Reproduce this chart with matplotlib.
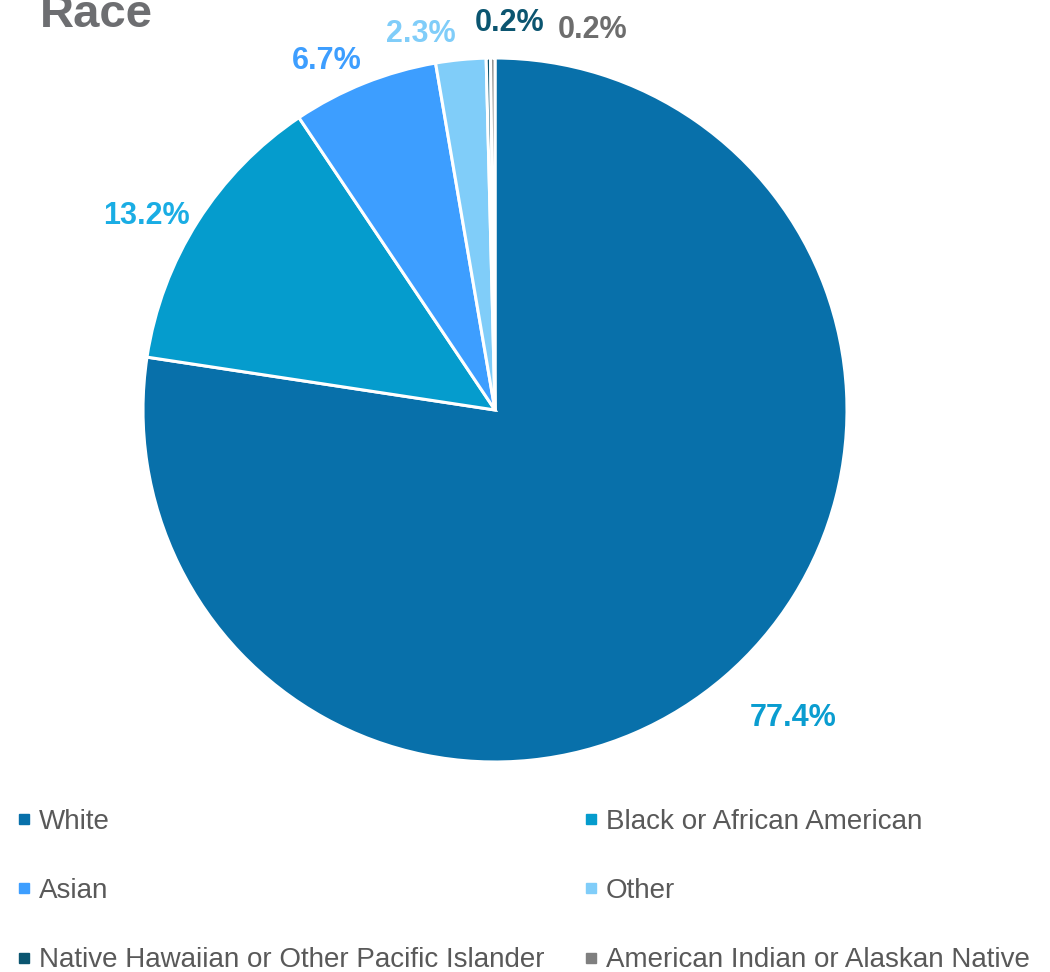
import matplotlib.pyplot as plt
from matplotlib.lines import Line2D

plt.rcParams['font.family'] = ['Liberation Sans', 'DejaVu Sans']

races = ["White", "Black or African American", "Asian", "Other",
         "Native Hawaiian or Other Pacific Islander", "American Indian or Alaskan Native"]
shares = [77.4, 13.2, 6.7, 2.3, 0.2, 0.2]
pct_labels = ["77.4%", "13.2%", "6.7%", "2.3%", "0.2%", "0.2%"]

slice_colors = ["#0870AA", "#059CCD", "#3D9EFF", "#80CDF9", "#0B5570", "#7F7F7F"]
label_colors = ["#0A9DD0", "#1AADE4", "#3D9EFF", "#80CDF9", "#0B5570", "#6D6D6D"]
# where Excel put each data label, in units of the pie radius
label_pos = [(0.847, -0.875), (-0.989, 0.551), (-0.477, 0.991),
             (-0.210, 1.068), (0.040, 1.099), (0.278, 1.079)]

fig = plt.figure(figsize=(10.5, 9.72), dpi=100)
ax = fig.add_axes([143 / 1050, 210 / 972, 704 / 1050, 704 / 972])

wedges, _ = ax.pie(shares, colors=slice_colors, startangle=90, counterclock=False,
                   radius=1, wedgeprops=dict(edgecolor="white", linewidth=2.2))
ax.set_xlim(-1, 1)
ax.set_ylim(-1, 1)
ax.set_aspect("equal")
ax.axis("off")

for (x, y), txt, c in zip(label_pos, pct_labels, label_colors):
    ax.text(x, y, txt, ha="center", va="center", fontsize=22, fontweight="bold",
            color=c, clip_on=False)

fig.text(40 / 1050, 1 - 27 / 972, "Race", fontsize=34, fontweight="bold",
         color="#6D6E71", ha="left", va="baseline")

handles = [Line2D([], [], marker="s", linestyle="none", markersize=7,
                  markerfacecolor=c, markeredgecolor=c) for c in slice_colors]
# ncol=2 fills column by column, so reorder to get row-wise layout
order = [0, 2, 4, 1, 3, 5]
leg = fig.legend([handles[i] for i in order], [races[i] for i in order],
                 ncol=2, loc="upper left", bbox_to_anchor=(10 / 1050, 1 - 803 / 972),
                 frameon=False, fontsize=20, handlelength=0.6, handletextpad=0.25,
                 columnspacing=1.35, labelspacing=1.56, borderaxespad=0,
                 borderpad=0.2)
for t in leg.get_texts():
    t.set_color("#595959")

fig.savefig("out.png", dpi=100)
